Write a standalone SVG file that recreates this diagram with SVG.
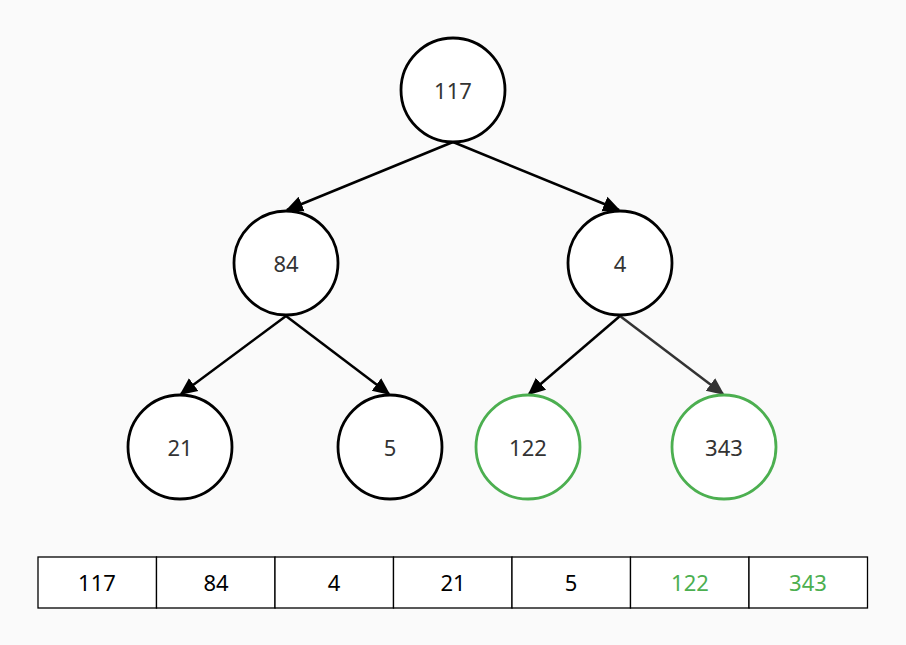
<svg xmlns="http://www.w3.org/2000/svg" width="906" height="645" viewBox="0 0 906 645">
<style>
.n{fill:#fff;stroke:#000;stroke-width:2.8}
.g{fill:#fff;stroke:#4caf50;stroke-width:2.8}
.t{font-family:"Noto Sans","Open Sans",sans-serif;font-size:22px;fill:#333;text-anchor:middle;dominant-baseline:central}
.e{stroke:#000;stroke-width:2.5;fill:none;marker-end:url(#a)}
.c{fill:#fff;stroke:#000;stroke-width:1.3}
.ct{font-family:"Noto Sans","Open Sans",sans-serif;font-size:22px;fill:#000;text-anchor:middle;dominant-baseline:central}
.cg{fill:#4caf50}
</style>
<defs>
<marker id="a" viewBox="0 0 10 10" refX="9" refY="5" markerWidth="7" markerHeight="7" markerUnits="strokeWidth" orient="auto"><path d="M0,0.5 L10,5 L0,9.5 z" fill="#000"/></marker>
<marker id="b" viewBox="0 0 10 10" refX="9" refY="5" markerWidth="7" markerHeight="7" markerUnits="strokeWidth" orient="auto"><path d="M0,0.5 L10,5 L0,9.5 z" fill="#333"/></marker>
</defs>
<rect width="906" height="645" fill="#fafafa"/>
<g id="connectors">
<line class="e" x1="453" y1="142" x2="287" y2="210"/>
<line class="e" x1="453" y1="142" x2="619" y2="210"/>
<line class="e" x1="286" y1="316" x2="181" y2="394"/>
<line class="e" x1="286" y1="316" x2="389" y2="394"/>
<line class="e" x1="620" y1="316" x2="529" y2="394"/>
<line class="e" style="stroke:#333;marker-end:url(#b)" x1="620" y1="316" x2="723" y2="394"/>
</g>
<g id="n117"><circle class="n" cx="453" cy="90" r="52"/><text class="t" x="453" y="90">117</text></g>
<g id="n84"><circle class="n" cx="286" cy="263" r="52"/><text class="t" x="286" y="263">84</text></g>
<g id="n4"><circle class="n" cx="620" cy="263" r="52"/><text class="t" x="620" y="263">4</text></g>
<g id="n21"><circle class="n" cx="180" cy="447" r="52"/><text class="t" x="180" y="447">21</text></g>
<g id="n5"><circle class="n" cx="390" cy="447" r="52"/><text class="t" x="390" y="447">5</text></g>
<g id="n122"><circle class="g" cx="528" cy="447" r="52"/><text class="t" x="528" y="447">122</text></g>
<g id="n343"><circle class="g" cx="724" cy="447" r="52"/><text class="t" x="724" y="447">343</text></g>
<g id="array">
<rect class="c" x="38" y="557" width="118.5" height="51"/>
<rect class="c" x="156.5" y="557" width="118.5" height="51"/>
<rect class="c" x="275" y="557" width="118.5" height="51"/>
<rect class="c" x="393.5" y="557" width="118.5" height="51"/>
<rect class="c" x="512" y="557" width="118.5" height="51"/>
<rect class="c" x="630.5" y="557" width="118.5" height="51"/>
<rect class="c" x="749" y="557" width="118.5" height="51"/>
<text class="ct" x="97" y="582">117</text>
<text class="ct" x="216" y="582">84</text>
<text class="ct" x="334" y="582">4</text>
<text class="ct" x="453" y="582">21</text>
<text class="ct" x="571" y="582">5</text>
<text class="ct cg" x="690" y="582">122</text>
<text class="ct cg" x="808" y="582">343</text>
</g>
</svg>
